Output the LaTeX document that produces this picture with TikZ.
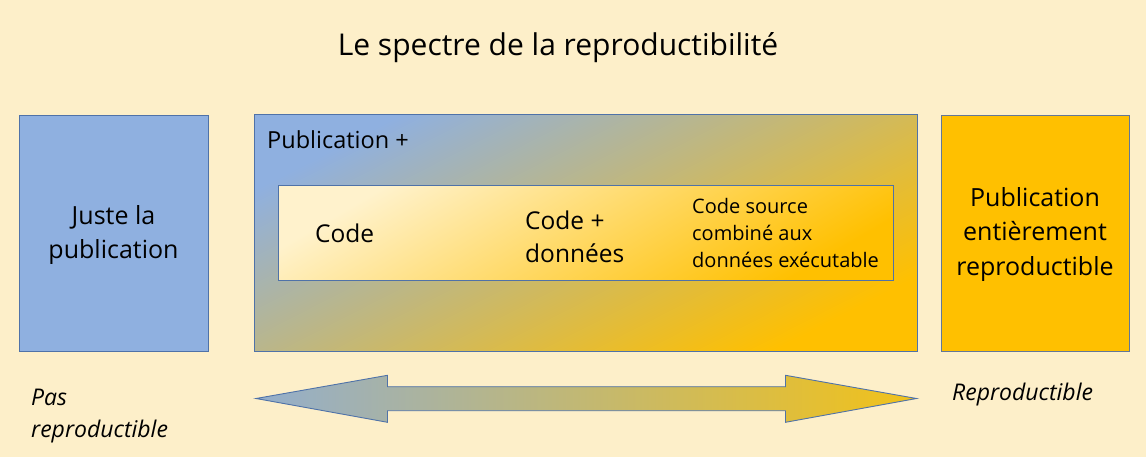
\documentclass[tikz,border=0pt]{standalone}
\usepackage{fontspec}
\setmainfont{Open Sans}
\definecolor{bg}{HTML}{FDEFC9}
\definecolor{bluebox}{HTML}{8FB0E0}
\definecolor{edge}{HTML}{4F72A8}
\definecolor{gold}{HTML}{FFC000}
\definecolor{pale}{HTML}{FFF2CC}
\definecolor{arrowblue}{HTML}{93AECC}
\definecolor{arrowgold}{HTML}{F2C218}
% linear gradients applied on a covering square (stops computed for the box corners)
\pgfdeclarehorizontalshading{diagmid}{100bp}{color(0bp)=(bluebox); color(35.62bp)=(bluebox); color(64.38bp)=(gold); color(100bp)=(gold)}
\pgfdeclarehorizontalshading{diaginner}{100bp}{color(0bp)=(pale); color(38.36bp)=(pale); color(61.64bp)=(gold); color(100bp)=(gold)}
\tikzset{
  panel/.style={draw=edge, line width=0.9pt, minimum width=#1, inner sep=0pt},
  bigtext/.style={font=\fontsize{25}{34.5}\selectfont, align=center, text=black},
  smalltext/.style={font=\fontsize{20}{27}\selectfont, align=left, anchor=west, inner sep=0pt},
  midtext/.style={font=\fontsize{24.5}{33}\selectfont, align=left, anchor=west, inner sep=0pt},
  itext/.style={font=\itshape\fontsize{23}{32}\selectfont, align=left, anchor=west, inner sep=0pt},
}
\begin{document}
\begin{tikzpicture}[x=1pt,y=-1pt]
\fill[bg] (0,0) rectangle (1146,457);
\useasboundingbox (0,0) rectangle (1146,457);

\node[font=\fontsize{30}{36}\selectfont] (title) at (558,48) {Le spectre de la reproductibilité};

% left panel
\node[panel=189pt, minimum height=236pt, fill=bluebox] (juste) at (113.5,233) {};
\node[bigtext] (justetext) at (113.5,235) {Juste la\\publication};

% middle panel
\node[panel=662pt, minimum height=236pt] (pubplus) at (586,233) {};
\begin{scope}
  \clip (pubplus.north west) rectangle (pubplus.south east);
  \shade[shading=diagmid, shading angle=-62.8] (255,-98) rectangle (917,564);
\end{scope}
\draw[edge, line width=0.9pt] (pubplus.north west) rectangle (pubplus.south east);
\node[font=\fontsize{23.5}{28}\selectfont, anchor=west, inner sep=0pt] (pubplabel) at (267,140) {Publication +};

% inner panel
\node[panel=614pt, minimum height=94pt] (inner) at (586,233) {};
\begin{scope}
  \clip (inner.north west) rectangle (inner.south east);
  \shade[shading=diaginner, shading angle=-59.7] (279,-74) rectangle (893,540);
\end{scope}
\draw[edge, line width=0.9pt] (inner.north west) rectangle (inner.south east);
\node[midtext] (code) at (315,233) {Code};
\node[midtext] (codedata) at (525,236.5) {Code +\\données};
\node[smalltext] (codesrc) at (692,233) {Code source\\combiné aux\\données exécutable};

% right panel
\node[panel=188pt, minimum height=236pt, fill=gold, draw=edge!60!gray] (full) at (1035,233) {};
\node[bigtext] (fulltext) at (1035,234.5) {Publication\\entièrement\\reproductible};

\node[itext] (pas) at (31,416) {Pas\\reproductible};
\node[itext] (repro) at (952,395) {Reproductible};

\draw[edge, line width=0.9pt, left color=arrowblue, right color=arrowgold]
  (256,398.5) -- (387.5,375.3) -- (387.5,386.7) -- (785.5,386.7) -- (785.5,375.3)
  -- (916.5,398.5) -- (785.5,422.3) -- (785.5,410.7) -- (387.5,410.7) -- (387.5,422.3) -- cycle;
\end{tikzpicture}
\end{document}
